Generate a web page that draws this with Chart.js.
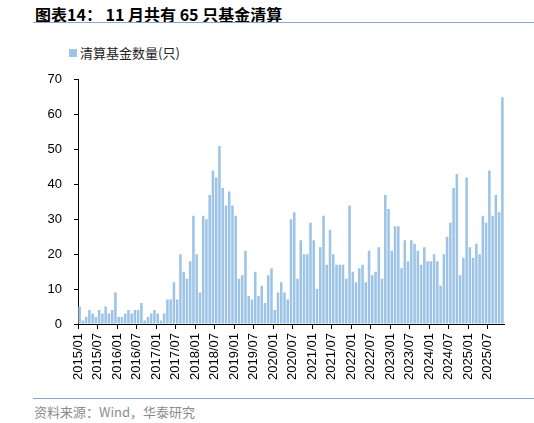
<!DOCTYPE html>
<html>
<head>
<meta charset="utf-8">
<script src="https://cdn.jsdelivr.net/npm/chart.js@4"></script>
<style>
  body { margin: 0; background: #fff; }
  #wrap { position: relative; width: 534px; height: 423px; overflow: hidden; }
  #title { position: absolute; left: 35px; top: 2px; font: bold 16px "Noto Sans CJK SC", sans-serif; color: #000; white-space: nowrap; }
  .rule { position: absolute; left: 33px; width: 501px; height: 0; border-top: 1.5px solid #8da7c8; }
  #legend { position: absolute; left: 69px; top: 43px; font: 13px "Noto Sans CJK SC", sans-serif; color: #222; white-space: nowrap; }
  #legend span { display: inline-block; width: 8px; height: 8px; background: #9dc3e6; margin-right: 3px; vertical-align: 1px; }
  #source { position: absolute; left: 34px; top: 402px; font: 13px "Noto Sans CJK SC", sans-serif; color: #8c8c8c; white-space: nowrap; }
  #chart { position: absolute; left: 0; top: 60px; }
</style>
</head>
<body>
<div id="wrap">
  <div id="title">图表14： 11 月共有 65 只基金清算</div>
  <div class="rule" style="top:22px"></div>
  <div id="legend"><span></span>清算基金数量(只)</div>
  <canvas id="chart" width="534" height="330"></canvas>
  <div class="rule" style="top:398px"></div>
  <div id="source">资料来源：Wind，华泰研究</div>
</div>
<script>
// monthly counts, 2015/01 - 2025/11
const years = [2015, 2016, 2017, 2018, 2019, 2020, 2021, 2022, 2023, 2024, 2025];
const y2015 = [5, 1, 2, 4, 3, 2, 4, 3, 5, 3, 4, 9];
const y2016 = [2, 2, 3, 4, 3, 4, 4, 6, 1, 2, 3, 4];
const y2017 = [3, 1, 3, 7, 7, 12, 7, 20, 15, 13, 18, 31];
const y2018 = [20, 9, 31, 30, 37, 44, 42, 51, 39, 34, 38, 34];
const y2019 = [31, 13, 14, 21, 8, 7, 15, 8, 11, 6, 14, 16];
const y2020 = [4, 9, 12, 9, 7, 30, 32, 13, 24, 20, 20, 29];
const y2021 = [24, 10, 22, 31, 17, 27, 20, 17, 17, 17, 13, 34];
const y2022 = [15, 12, 16, 17, 12, 21, 14, 15, 22, 13, 37, 33];
const y2023 = [21, 28, 28, 16, 24, 18, 24, 23, 21, 17, 22, 18];
const y2024 = [18, 20, 18, 11, 20, 25, 29, 39, 43, 14, 19, 42];
const y2025 = [22, 19, 23, 20, 31, 29, 44, 31, 37, 32, 65];
const yTicks = [0, 10, 20, 30, 40, 50, 60, 70];

const values = [].concat(y2015, y2016, y2017, y2018, y2019, y2020, y2021, y2022, y2023, y2024, y2025);
const labels = [];
years.forEach(y => {
    for (let m = 1; m <= 12; m++) {
        if (labels.length < values.length) labels.push(y + "/" + String(m).padStart(2, "0"));
    }
});

Chart.defaults.font.family = "'Liberation Sans', Arial, sans-serif";
Chart.defaults.font.size = 13;
Chart.defaults.color = "#000";

new Chart(document.getElementById("chart").getContext("2d"), {
    type: "bar",
    data: {
        labels: labels,
        datasets: [{
            label: "清算基金数量(只)",
            data: values,
            backgroundColor: "#9dc3e6",
            borderWidth: 0,
            barPercentage: 0.78,
            categoryPercentage: 1
        }]
    },
    options: {
        responsive: false,
        animation: false,
        layout: { padding: { top: 17, right: 30, bottom: 6, left: 0 } },
        plugins: { legend: { display: false }, tooltip: { enabled: false } },
        scales: {
            x: {
                afterFit: s => { s.height = 60; },
                grid: {
                    offset: true,
                    drawOnChartArea: false,
                    tickLength: 5,
                    color: ctx => (ctx.index % 6 === 0 ? "#000" : "rgba(0,0,0,0)")
                },
                border: { color: "#000", width: 1 },
                ticks: {
                    autoSkip: false,
                    minRotation: 90,
                    maxRotation: 90,
                    padding: 4,
                    labelOffset: -1.6,
                    callback: (v, i) => (i % 6 === 0 ? labels[i] : "")
                }
            },
            y: {
                min: 0,
                max: 70,
                afterFit: s => { s.width = 78; },
                afterBuildTicks: s => { s.ticks = yTicks.map(v => ({ value: v })); },
                grid: { drawOnChartArea: false, tickLength: 4, color: "#000" },
                border: { color: "#000", width: 1 },
                ticks: { padding: 12 }
            }
        }
    }
});
</script>
</body>
</html>
